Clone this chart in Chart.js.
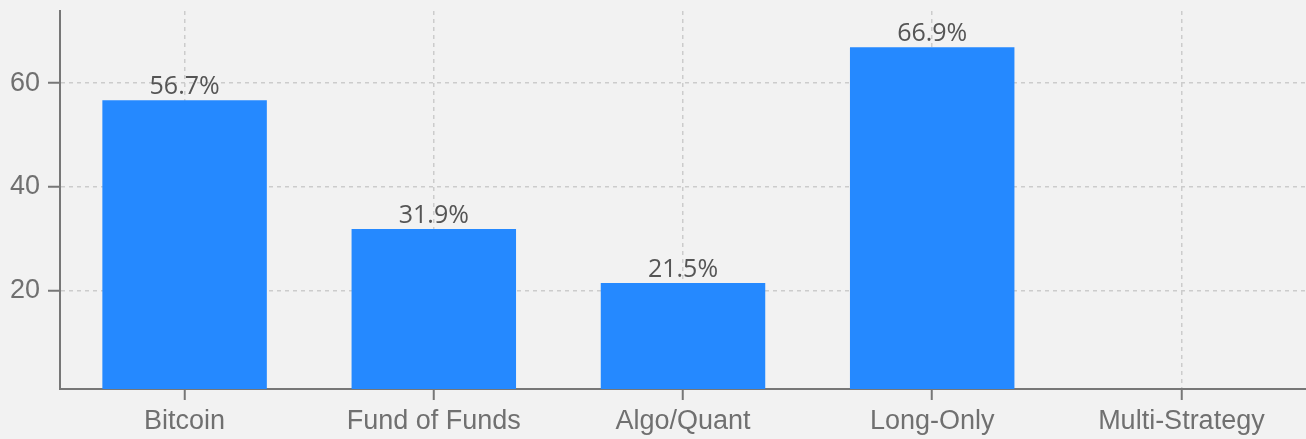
<!DOCTYPE html>
<html>
<head>
<meta charset="utf-8">
<script src="https://cdn.jsdelivr.net/npm/chart.js@4"></script>
<style>
  html, body { margin: 0; padding: 0; background: #f2f2f2; }
  #wrap { width: 1306px; height: 439px; }
</style>
</head>
<body>
<div id="wrap"><canvas id="chartBar"></canvas></div>
<script>
// categories et valeurs
var categories = ["Bitcoin", "Fund of Funds", "Algo/Quant", "Long-Only", "Multi-Strategy"];
var values = [56.7, 31.9, 21.5, 66.9, null];
var yTicks = [20, 40, 60];

// étiquettes au-dessus des barres
var valueLabels = {
    id: 'valueLabels',
    afterDatasetsDraw: function (chart) {
        var c = chart.ctx;
        var meta = chart.getDatasetMeta(0);
        c.save();
        c.font = '25px "Open Sans"';
        c.fillStyle = '#555555';
        c.textAlign = 'center';
        c.textBaseline = 'bottom';
        meta.data.forEach(function (bar, i) {
            if (values[i] == null) return;
            c.fillText(values[i].toFixed(1) + '%', bar.x, bar.y - 1);
        });
        c.restore();
    }
};

var ctx = document.getElementById("chartBar");

new Chart(ctx, {
    type: 'bar',
    data: {
        labels: categories,
        datasets: [{
            data: values,
            backgroundColor: '#2589ff',
            barPercentage: 0.66,
            categoryPercentage: 1
        }]
    },
    options: {
        responsive: true,
        maintainAspectRatio: false,
        animation: false,
        layout: { padding: { top: 11, right: 0, left: 0, bottom: 0 } },
        plugins: {
            legend: { display: false },
            tooltip: { enabled: false }
        },
        scales: {
            x: {
                grid: {
                    offset: false,
                    color: '#cccccc',
                    tickColor: '#777777',
                    tickBorderDash: [],
                    tickLength: 11,
                    lineWidth: 1.5,
                    tickWidth: 2
                },
                border: { color: '#777777', width: 2, dash: [4, 4] },
                ticks: {
                    color: '#707070',
                    font: { family: '"Liberation Sans", Arial', size: 27 },
                    padding: 5,
                    maxRotation: 0
                },
                afterFit: function (s) {
                    s.height = 50;
                    s.paddingLeft = 0;
                    s.paddingRight = 0;
                }
            },
            y: {
                min: 1.1,
                max: 73.9,
                grid: {
                    color: '#cccccc',
                    tickColor: '#777777',
                    tickBorderDash: [],
                    tickLength: 12,
                    lineWidth: 1.5,
                    tickWidth: 2
                },
                border: { color: '#777777', width: 2, dash: [4, 4] },
                ticks: {
                    color: '#707070',
                    font: { family: '"Liberation Sans", Arial', size: 27 },
                    padding: 8
                },
                afterBuildTicks: function (s) {
                    s.ticks = yTicks.map(function (v) { return { value: v }; });
                },
                afterFit: function (s) {
                    s.width = 60;
                    s.paddingTop = 0;
                    s.paddingBottom = 0;
                }
            }
        }
    },
    plugins: [valueLabels]
});
</script>
</body>
</html>
